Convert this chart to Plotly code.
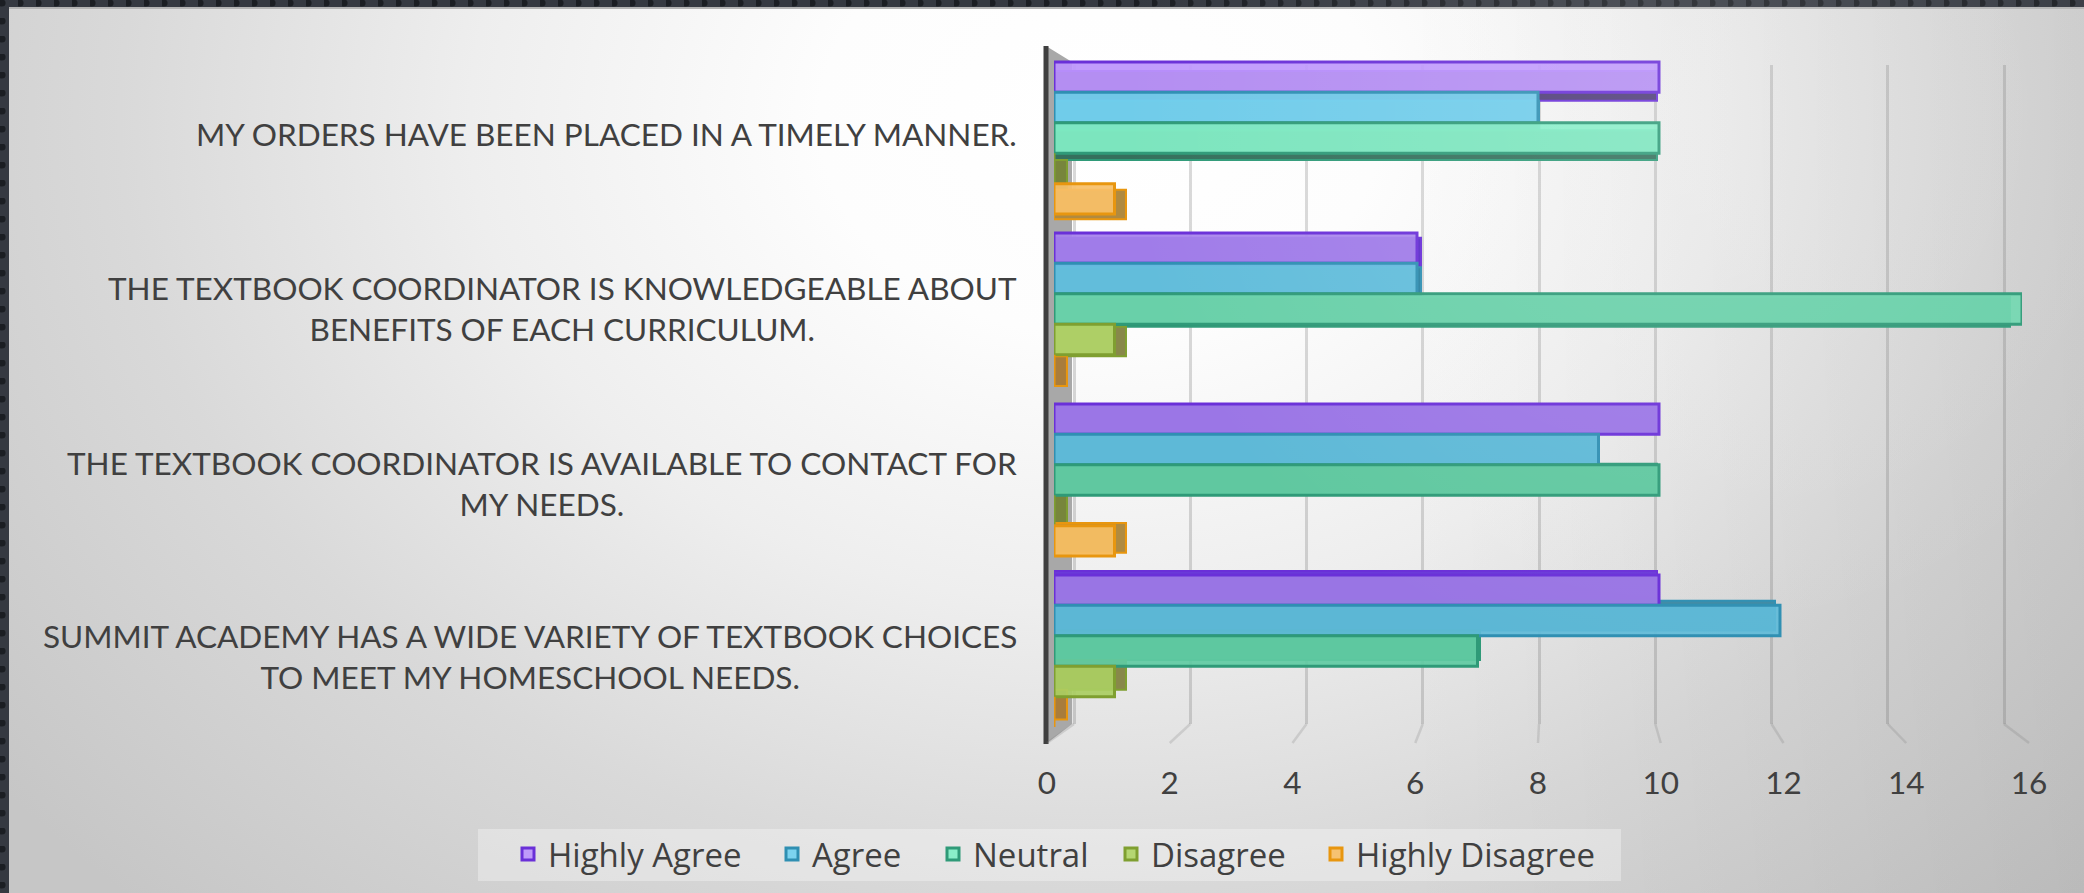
import base64
import plotly.graph_objects as go

W, H = 2084, 893

categories = [
    "MY ORDERS HAVE BEEN PLACED IN A TIMELY MANNER.",
    "THE TEXTBOOK COORDINATOR IS KNOWLEDGEABLE ABOUT<br>BENEFITS OF EACH CURRICULUM.",
    "THE TEXTBOOK COORDINATOR IS AVAILABLE TO CONTACT FOR<br>MY NEEDS.",
    "SUMMIT ACADEMY HAS A WIDE VARIETY OF TEXTBOOK CHOICES<br>TO MEET MY HOMESCHOOL NEEDS.",
]
series_names = ["Highly Agree", "Agree", "Neutral", "Disagree", "Highly Disagree"]
highly_agree = [10, 6, 10, 10]
agree = [8, 6, 9, 12]
neutral = [10, 16, 10, 7]
disagree = [0, 1, 0, 1]
highly_disagree = [1, 0, 1, 0]
tick_values = [0, 2, 4, 6, 8, 10, 12, 14, 16]

series = [highly_agree, agree, neutral, disagree, highly_disagree]
front_fill = [
    ["rgba(188,148,252,0.93)", "rgba(166,130,236,0.93)", "rgba(160,124,232,0.93)", "rgba(157,122,228,0.93)"],
    ["rgba(116,210,240,0.93)", "rgba(102,194,224,0.93)", "rgba(98,189,219,0.93)", "rgba(95,186,216,0.93)"],
    ["rgba(130,238,198,0.93)", "rgba(110,214,174,0.93)", "rgba(100,205,165,0.93)", "rgba(96,202,162,0.93)"],
    ["rgba(176,212,104,0.93)", "rgba(176,212,104,0.93)", "rgba(170,206,98,0.93)", "rgba(170,206,98,0.93)"],
    ["rgba(248,192,104,0.93)", "rgba(246,190,100,0.93)", "rgba(246,190,100,0.93)", "rgba(244,186,96,0.93)"],
]
back_fill = [
    ["#4f3d78", "#5a2cc8", "#5a2cc8", "#6a3ad8"],
    ["#3a7a95", "#2a80a0", "#2a80a0", "#3f8aa5"],
    ["#35705c", "#2f8568", "#2f8568", "#45a585"],
    ["#77853c", "#88884a", "#77853c", "#88884a"],
    ["#b08a40", "#a87c3c", "#b08a40", "#a87c3c"],
]
line_col = ["#6a30d8", "#2f8fb2", "#2f9a78", "#7f9f30", "#e8960f"]
legend_swatch_x = [529, 793, 954, 1132, 1337]
label_shift = [4, 1, -3, -5]
TXT = "#404040"
FONT = "Lato"


def xd(a, b):
    return [a / W, b / W]


def yd(top, bottom):
    return [1 - bottom / H, 1 - top / H]


bg_svg = f'''<svg xmlns="http://www.w3.org/2000/svg" width="{W}" height="{H}">
<defs>
<radialGradient id="g" gradientUnits="userSpaceOnUse" cx="0" cy="0" r="1400" gradientTransform="translate(1100 120) scale(1 0.77)">
<stop offset="0" stop-color="#ffffff"/><stop offset="0.2" stop-color="#fdfdfd"/>
<stop offset="0.45" stop-color="#eeeeee"/><stop offset="0.7" stop-color="#d9d9d9"/><stop offset="1" stop-color="#c6c6c6"/></radialGradient>
<linearGradient id="r" gradientUnits="userSpaceOnUse" x1="1400" y1="0" x2="2084" y2="0">
<stop offset="0" stop-color="#000" stop-opacity="0"/><stop offset="1" stop-color="#000" stop-opacity="0.06"/></linearGradient>
<pattern id="d" patternUnits="userSpaceOnUse" width="18" height="18">
<rect width="18" height="18" fill="#353941"/><circle cx="2" cy="3" r="3.6" fill="#1b1e23"/></pattern>
</defs>
<rect width="{W}" height="{H}" fill="url(#g)"/><rect width="{W}" height="{H}" fill="url(#r)"/>
<rect y="7" width="{W}" height="2" fill="#b4b4b4"/>
<rect width="{W}" height="7" fill="url(#d)"/><rect width="9" height="{H}" fill="url(#d)"/>
</svg>'''
sheen_svg = f'''<svg xmlns="http://www.w3.org/2000/svg" width="{W}" height="{H}">
<defs><radialGradient id="s" gradientUnits="userSpaceOnUse" cx="1680" cy="110" r="560">
<stop offset="0" stop-color="#ffffff" stop-opacity="0.14"/><stop offset="1" stop-color="#ffffff" stop-opacity="0"/></radialGradient></defs>
<rect width="{W}" height="{H}" fill="url(#s)"/></svg>'''


def uri(s):
    return "data:image/svg+xml;base64," + base64.b64encode(s.encode()).decode()


fig = go.Figure()

# grid plane (invisible trace keeps the axes alive)
fig.add_trace(go.Scatter(x=tick_values, y=tick_values, mode="markers", marker=dict(opacity=0),
                         showlegend=False, hoverinfo="skip", xaxis="x", yaxis="y"))

BASE = -0.22
for name, vals, col, ln in zip(series_names, series, back_fill, line_col):
    fig.add_trace(go.Bar(y=categories, x=[v - BASE for v in vals], base=BASE, orientation="h",
                         name=name, showlegend=False, hoverinfo="skip", xaxis="x2", yaxis="y2",
                         offsetgroup=name, marker=dict(color=col, line=dict(color=ln, width=2))))
for i, (name, vals, col, ln) in enumerate(zip(series_names, series, front_fill, line_col)):
    fig.add_trace(go.Bar(y=categories, x=vals, orientation="h", name=name, xaxis="x3", yaxis="y3",
                         offsetgroup=name, legend="legend" if i == 0 else f"legend{i + 1}",
                         marker=dict(color=col, line=dict(color=ln, width=3))))
# value-axis labels
fig.add_trace(go.Scatter(x=tick_values, y=tick_values, mode="markers", marker=dict(opacity=0),
                         showlegend=False, hoverinfo="skip", xaxis="x4", yaxis="y4"))

GRID0, GRID16 = 1074, 2004
GRID_PAD = 0.2
GRID_UNIT = (GRID16 - GRID0) / 16
LAB0, LAB16 = 1047, 2029
GRID_COL = "rgba(110,110,110,0.26)"
shapes = [
    dict(type="rect", xref="paper", yref="paper", x0=478 / W, x1=1621 / W, y0=1 - 881 / H, y1=1 - 829 / H,
         fillcolor="rgba(255,255,255,0.32)", line_width=0, layer="below"),
    dict(type="path", xref="paper", yref="paper", layer="below", line_width=0, fillcolor="#a8a8a8",
         path=f"M{1046/W},{1-46/H} L{1072/W},{1-62/H} L{1072/W},{1-724/H} L{1046/W},{1-744/H} Z"),
    dict(type="line", xref="paper", yref="paper", layer="below", x0=1046 / W, x1=1046 / W,
         y0=1 - 46 / H, y1=1 - 744 / H, line=dict(color="#3f3f3f", width=5)),
]
for t in tick_values:
    xb = GRID0 + GRID_UNIT * t
    xf = LAB0 + (LAB16 - LAB0) * t / 16
    shapes.append(dict(type="line", xref="paper", yref="paper", layer="below",
                       x0=xb / W, x1=xf / W, y0=1 - 724 / H, y1=1 - 743 / H,
                       line=dict(color="rgba(120,120,120,0.22)", width=2.5)))

annotations = [dict(text=c, x=1019 / W, xref="paper", y=c, yref="y3", xanchor="right", yanchor="middle",
                    yshift=s, align="center", showarrow=False, font=dict(family=FONT, size=31.5, color=TXT))
               for c, s in zip(categories, label_shift)]


def hidden(dom, rng, **kw):
    return dict(domain=dom, range=rng, showgrid=False, zeroline=False, showline=False, showticklabels=False,
                ticks="", **kw)


legends = {}
for i, sx in enumerate(legend_swatch_x):
    key = "legend" if i == 0 else f"legend{i + 1}"
    legends[key] = dict(x=(sx - 21) / W, xanchor="left", y=1 - 854 / H, yanchor="middle",
                        bgcolor="rgba(0,0,0,0)", font=dict(family="Open Sans", size=33, color=TXT),
                        itemclick=False, itemdoubleclick=False)

layout = dict(
    width=W, height=H, margin=dict(l=0, r=0, t=0, b=0, autoexpand=False), autosize=False,
    paper_bgcolor="#e6e6e6", plot_bgcolor="rgba(0,0,0,0)",
    barmode="group", bargap=0.11, bargroupgap=0,
    font=dict(family=FONT, color=TXT),
    images=[
        dict(source=uri(bg_svg), xref="paper", yref="paper", x=0, y=1, sizex=1, sizey=1, sizing="stretch",
             xanchor="left", yanchor="top", layer="below"),
        dict(source=uri(sheen_svg), xref="paper", yref="paper", x=0, y=1, sizex=1, sizey=1, sizing="stretch",
             xanchor="left", yanchor="top", layer="above"),
    ],
    shapes=shapes, annotations=annotations,
    xaxis=dict(domain=xd(GRID0 - GRID_PAD * GRID_UNIT, GRID16 + GRID_PAD * GRID_UNIT),
               range=[-GRID_PAD, 16 + GRID_PAD], tickvals=tick_values, showgrid=True, gridcolor=GRID_COL,
               gridwidth=2.5, zeroline=False, showline=False, showticklabels=False, ticks="", anchor="y"),
    yaxis=hidden(yd(65, 724), [0, 16], anchor="x"),
    xaxis2=hidden(xd(1054, 2011), [BASE, 16], anchor="y2"),
    yaxis2=hidden(yd(61.8, 728.6), [3.5, -0.5], anchor="x2", type="category",
                  categoryorder="array", categoryarray=categories),
    xaxis3=hidden(xd(1054, 2022), [0, 16], anchor="y3"),
    yaxis3=hidden(yd(52.5, 736.5), [3.5, -0.5], anchor="x3", type="category",
                  categoryorder="array", categoryarray=categories),
    xaxis4=dict(domain=xd(LAB0, LAB16), range=[0, 16], tickvals=tick_values, showgrid=False, zeroline=False,
                showline=False, ticks="", showticklabels=True, anchor="y4", side="bottom",
                tickfont=dict(family=FONT, size=31.5, color=TXT), ticklabelstandoff=1),
    yaxis4=hidden(yd(745, 760), [0, 16], anchor="x4"),
    **legends,
)
fig.update_layout(**layout)
fig.write_html("out.html", config=dict(displayModeBar=False),
               post_script="document.body.style.margin='0';document.documentElement.style.overflow='hidden';")
